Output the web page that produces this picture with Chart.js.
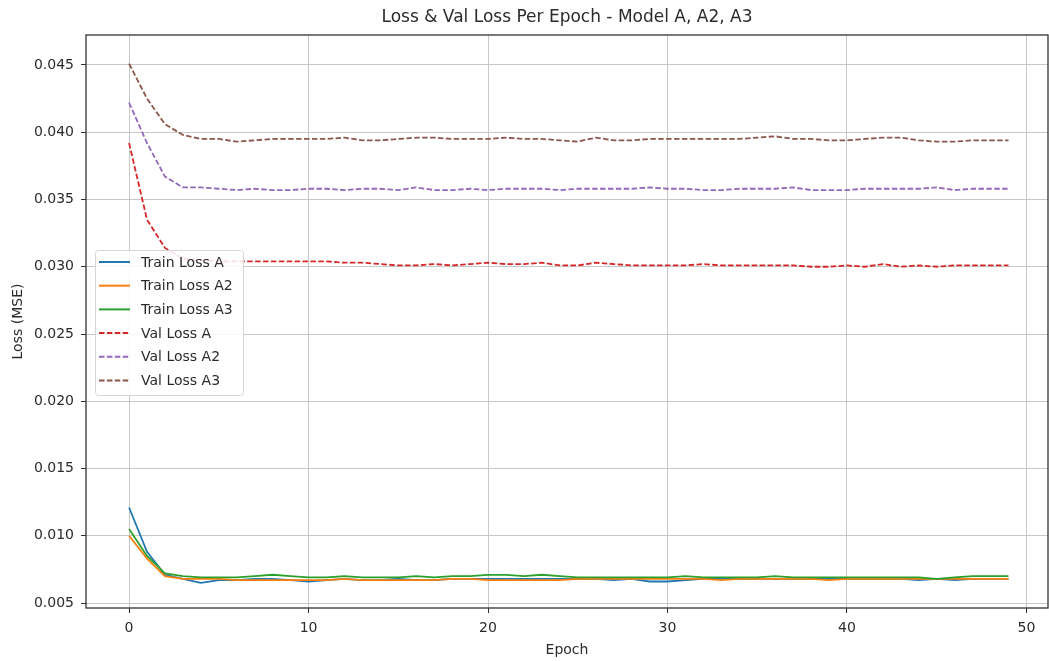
<!DOCTYPE html>
<html>
<head>
<meta charset="utf-8">
<script src="https://cdn.jsdelivr.net/npm/chart.js@4.4.1/dist/chart.umd.min.js"></script>
<style>
  html, body { margin: 0; padding: 0; background: #fff; }
  #wrap { width: 1049px; height: 661px; }
</style>
</head>
<body>
<div id="wrap"><canvas id="lossChart" width="1049" height="661"></canvas></div>
<script>
// Epoch index and per-epoch losses for the three models
const epochs = [0, 1, 2, 3, 4, 5, 6, 7, 8, 9, 10, 11, 12, 13, 14, 15, 16, 17, 18, 19,
  20, 21, 22, 23, 24, 25, 26, 27, 28, 29, 30, 31, 32, 33, 34, 35, 36, 37, 38, 39,
  40, 41, 42, 43, 44, 45, 46, 47, 48, 49];

const trainLossA = [0.0121, 0.0088, 0.0071, 0.0068, 0.0065, 0.0067, 0.0067, 0.0068, 0.0068, 0.0067,
  0.0066, 0.0067, 0.0068, 0.0067, 0.0067, 0.0068, 0.0067, 0.0067, 0.0068, 0.0068,
  0.0068, 0.0068, 0.0068, 0.0068, 0.0068, 0.0068, 0.0068, 0.0067, 0.0068, 0.0066,
  0.0066, 0.0067, 0.0068, 0.0068, 0.0068, 0.0068, 0.0068, 0.0068, 0.0068, 0.0068,
  0.0068, 0.0068, 0.0068, 0.0068, 0.0067, 0.0068, 0.0067, 0.0068, 0.0068, 0.0068];

const trainLossA2 = [0.0100, 0.0083, 0.0070, 0.0068, 0.0068, 0.0068, 0.0067, 0.0067, 0.0067, 0.0067,
  0.0067, 0.0067, 0.0068, 0.0067, 0.0067, 0.0067, 0.0067, 0.0067, 0.0068, 0.0068,
  0.0067, 0.0067, 0.0067, 0.0067, 0.0067, 0.0068, 0.0068, 0.0068, 0.0068, 0.0068,
  0.0068, 0.0068, 0.0068, 0.0067, 0.0068, 0.0068, 0.0068, 0.0068, 0.0068, 0.0067,
  0.0068, 0.0068, 0.0068, 0.0068, 0.0068, 0.0068, 0.0068, 0.0068, 0.0068, 0.0068];

const trainLossA3 = [0.0105, 0.0085, 0.0072, 0.0070, 0.0069, 0.0069, 0.0069, 0.0070, 0.0071, 0.0070,
  0.0069, 0.0069, 0.0070, 0.0069, 0.0069, 0.0069, 0.0070, 0.0069, 0.0070, 0.0070,
  0.0071, 0.0071, 0.0070, 0.0071, 0.0070, 0.0069, 0.0069, 0.0069, 0.0069, 0.0069,
  0.0069, 0.0070, 0.0069, 0.0069, 0.0069, 0.0069, 0.0070, 0.0069, 0.0069, 0.0069,
  0.0069, 0.0069, 0.0069, 0.0069, 0.0069, 0.0068, 0.0069, 0.0070, 0.0070, 0.0070];

const valLossA = [0.0392, 0.0335, 0.0314, 0.0306, 0.0305, 0.0304, 0.0304, 0.0304, 0.0304, 0.0304,
  0.0304, 0.0304, 0.0303, 0.0303, 0.0302, 0.0301, 0.0301, 0.0302, 0.0301, 0.0302,
  0.0303, 0.0302, 0.0302, 0.0303, 0.0301, 0.0301, 0.0303, 0.0302, 0.0301, 0.0301,
  0.0301, 0.0301, 0.0302, 0.0301, 0.0301, 0.0301, 0.0301, 0.0301, 0.0300, 0.0300,
  0.0301, 0.0300, 0.0302, 0.0300, 0.0301, 0.0300, 0.0301, 0.0301, 0.0301, 0.0301];

const valLossA2 = [0.0422, 0.0392, 0.0367, 0.0359, 0.0359, 0.0358, 0.0357, 0.0358, 0.0357, 0.0357,
  0.0358, 0.0358, 0.0357, 0.0358, 0.0358, 0.0357, 0.0359, 0.0357, 0.0357, 0.0358,
  0.0357, 0.0358, 0.0358, 0.0358, 0.0357, 0.0358, 0.0358, 0.0358, 0.0358, 0.0359,
  0.0358, 0.0358, 0.0357, 0.0357, 0.0358, 0.0358, 0.0358, 0.0359, 0.0357, 0.0357,
  0.0357, 0.0358, 0.0358, 0.0358, 0.0358, 0.0359, 0.0357, 0.0358, 0.0358, 0.0358];

const valLossA3 = [0.0451, 0.0425, 0.0406, 0.0398, 0.0395, 0.0395, 0.0393, 0.0394, 0.0395, 0.0395,
  0.0395, 0.0395, 0.0396, 0.0394, 0.0394, 0.0395, 0.0396, 0.0396, 0.0395, 0.0395,
  0.0395, 0.0396, 0.0395, 0.0395, 0.0394, 0.0393, 0.0396, 0.0394, 0.0394, 0.0395,
  0.0395, 0.0395, 0.0395, 0.0395, 0.0395, 0.0396, 0.0397, 0.0395, 0.0395, 0.0394,
  0.0394, 0.0395, 0.0396, 0.0396, 0.0394, 0.0393, 0.0393, 0.0394, 0.0394, 0.0394];

const xTicks = [0, 10, 20, 30, 40, 50];
const yTicks = [0.005, 0.010, 0.015, 0.020, 0.025, 0.030, 0.035, 0.040, 0.045];

const FONT = 'DejaVu Sans';
const TEXT = '#2b2b2b';

const seriesDefs = [
  { label: 'Train Loss A',  data: trainLossA,  color: '#1f77b4', dash: [] },
  { label: 'Train Loss A2', data: trainLossA2, color: '#ff7f0e', dash: [] },
  { label: 'Train Loss A3', data: trainLossA3, color: '#2ca02c', dash: [] },
  { label: 'Val Loss A',    data: valLossA,    color: '#d62728', dash: [5.5, 2.4] },
  { label: 'Val Loss A2',   data: valLossA2,   color: '#9467bd', dash: [5.5, 2.4] },
  { label: 'Val Loss A3',   data: valLossA3,   color: '#8c564b', dash: [5.5, 2.4] }
];

const datasets = seriesDefs.map((s, i) => ({
  label: s.label,
  data: epochs.map((e, k) => ({ x: e, y: s.data[k] })),
  borderColor: s.color,
  backgroundColor: s.color,
  borderWidth: 1.8,
  borderDash: s.dash,
  pointRadius: 0,
  tension: 0,
  fill: false,
  order: seriesDefs.length - i // later series painted on top
}));

// Box around the plotting area (all four spines)
const frame = {
  id: 'frame',
  afterDraw(chart) {
    const { ctx, chartArea: a } = chart;
    ctx.save();
    ctx.strokeStyle = '#333';
    ctx.lineWidth = 1.3;
    ctx.strokeRect(a.left, a.top, a.right - a.left, a.bottom - a.top);
    ctx.restore();
  }
};

// Legend drawn inside the axes, over the lines
const insideLegend = {
  id: 'insideLegend',
  afterDatasetsDraw(chart) {
    const { ctx, chartArea: a } = chart;
    const x = a.left + 9, y = a.top + 215, w = 148, h = 145;
    ctx.save();
    ctx.fillStyle = 'rgba(255,255,255,0.85)';
    ctx.strokeStyle = '#d6d6d6';
    ctx.lineWidth = 1;
    ctx.beginPath();
    ctx.roundRect(x + 0.5, y + 0.5, w, h, 3);
    ctx.fill();
    ctx.stroke();
    ctx.font = '14px "' + FONT + '"';
    ctx.textBaseline = 'middle';
    chart.data.datasets.forEach((ds, i) => {
      const ry = y + 12 + i * 23.7;
      ctx.strokeStyle = ds.borderColor;
      ctx.lineWidth = 2;
      ctx.setLineDash(ds.borderDash);
      ctx.beginPath();
      ctx.moveTo(x + 4, ry);
      ctx.lineTo(x + 35, ry);
      ctx.stroke();
      ctx.setLineDash([]);
      ctx.fillStyle = TEXT;
      ctx.fillText(ds.label, x + 46, ry + 1);
    });
    ctx.restore();
  }
};

new Chart(document.getElementById('lossChart'), {
  type: 'line',
  data: { datasets },
  options: {
    responsive: false,
    animation: false,
    layout: { padding: { top: 0, right: 1, bottom: 0, left: 0 } },
    plugins: {
      legend: { display: false },
      tooltip: { enabled: false },
      title: {
        display: true,
        text: 'Loss & Val Loss Per Epoch - Model A, A2, A3',
        color: TEXT,
        fullSize: false,
        font: { family: FONT, size: 17, weight: 'normal', lineHeight: 1.2 },
        padding: { top: 7, bottom: 7.6 }
      }
    },
    scales: {
      x: {
        type: 'linear',
        min: -2.4,
        max: 51.2,
        afterBuildTicks: (scale) => { scale.ticks = xTicks.map(v => ({ value: v })); },
        afterFit: (scale) => { scale.height = 53; },
        grid: { color: '#c8c8c8', lineWidth: 1, tickColor: '#333', tickLength: 5, tickWidth: 1 },
        border: { display: false },
        ticks: { color: TEXT, padding: 7, maxRotation: 0, font: { family: FONT, size: 14 } },
        title: {
          display: true, text: 'Epoch', color: TEXT,
          font: { family: FONT, size: 14, lineHeight: 1.2 },
          padding: { top: 2, bottom: 2 }
        }
      },
      y: {
        type: 'linear',
        min: 0.00463,
        max: 0.04723,
        afterBuildTicks: (scale) => { scale.ticks = yTicks.map(v => ({ value: v })); },
        afterFit: (scale) => { scale.width = 86; },
        grid: { color: '#c8c8c8', lineWidth: 1, tickColor: '#333', tickLength: 5, tickWidth: 1 },
        border: { display: false },
        ticks: {
          color: TEXT, padding: 7, font: { family: FONT, size: 14 },
          callback: (v) => v.toFixed(3)
        },
        title: {
          display: true, text: 'Loss (MSE)', color: TEXT,
          font: { family: FONT, size: 14, lineHeight: 1.2 },
          padding: { top: 10, bottom: 0 }
        }
      }
    }
  },
  plugins: [frame, insideLegend]
});
</script>
</body>
</html>
